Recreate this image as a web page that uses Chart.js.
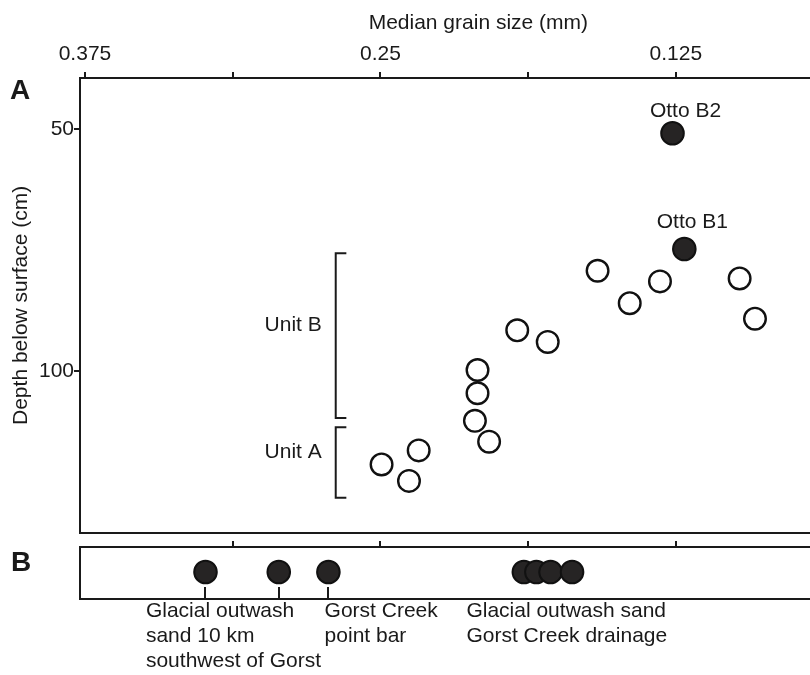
<!DOCTYPE html>
<html>
<head>
<meta charset="utf-8">
<script src="https://cdn.jsdelivr.net/npm/chart.js@4.4.1/dist/chart.umd.min.js"></script>
<style>
  html, body { margin: 0; padding: 0; background: #fff; overflow: hidden; }
  #wrap { position: relative; width: 810px; height: 675px; overflow: hidden; }
  #chartA { position: absolute; left: 0; top: 0; }
  #chartB { position: absolute; left: 0; top: 530px; }
</style>
</head>
<body>
<div id="wrap">
  <canvas id="chartA" width="890" height="546"></canvas>
  <canvas id="chartB" width="890" height="145"></canvas>
</div>
<script>
// Panel A - open circles: median grain size (mm) vs depth (cm)
const grainA = [0.2495, 0.2379, 0.2338, 0.2100, 0.2089, 0.2089, 0.2040, 0.1921, 0.1792, 0.1581, 0.1445, 0.1317, 0.0980, 0.0915];
const depthA = [119.2, 122.6, 116.3, 110.2, 99.7, 104.5, 114.5, 91.5, 93.9, 79.2, 85.9, 81.4, 80.8, 89.1];

// Otto samples (filled)
const ottoNames = ['Otto B2', 'Otto B1'];
const ottoGrain = [0.1264, 0.1214];
const ottoDepth = [50.8, 74.7];

// Units (depth ranges)
const unitNames = ['Unit B', 'Unit A'];
const unitTop = [75.6, 111.5];
const unitBottom = [109.6, 126.1];

// Panel B - reference samples
const grainB = [0.3240, 0.2930, 0.2720, 0.1893, 0.1840, 0.1780, 0.1689];
const groupLines = [
    ['Glacial outwash', 'sand 10 km', 'southwest of Gorst'],
    ['Gorst Creek', 'point bar'],
    ['Glacial outwash sand', 'Gorst Creek drainage']
];
const groupGrain = [0.3492, 0.2736, 0.2136];
const leaderIdx = [0, 1, 2];

// Axes
const grainTicks = [0.375, 0.3125, 0.25, 0.1875, 0.125];
const grainTickLabels = ['0.375', '', '0.25', '', '0.125'];
const grainTicksB = [0.3125, 0.25, 0.1875, 0.125];
const depthTicks = [50, 100];

const FONT = '"Liberation Sans", Arial, sans-serif';
const INK = '#1a1a1a';
const FS = 21;
const xMin = 0.040, xMax = 0.3771;

Chart.defaults.font.family = FONT;
Chart.defaults.font.size = FS;
Chart.defaults.color = INK;

const bracketX = 0.2689;
const bracketEnd = 0.2644;

function borderOnly(extra) {
    return Object.assign({
        display: true,
        ticks: { display: false },
        grid: { display: false },
        border: { display: true, color: INK, width: 2 }
    }, extra);
}

// brackets for the units
const bracketSets = unitNames.map((n, i) => ({
    type: 'scatter',
    showLine: true,
    data: [
        { x: bracketEnd, y: unitTop[i] },
        { x: bracketX, y: unitTop[i] },
        { x: bracketX, y: unitBottom[i] },
        { x: bracketEnd, y: unitBottom[i] }
    ],
    borderColor: INK,
    borderWidth: 2,
    pointRadius: 0,
    borderJoinStyle: 'miter'
}));

const labelsA = {
    id: 'labelsA',
    afterDatasetsDraw(chart) {
        const { ctx, scales: { x, y } } = chart;
        ctx.save();
        ctx.fillStyle = INK;
        ctx.font = FS + 'px ' + FONT;
        ctx.textBaseline = 'middle';
        // unit labels
        ctx.textAlign = 'right';
        unitNames.forEach((n, i) => {
            const mid = (y.getPixelForValue(unitTop[i]) + y.getPixelForValue(unitBottom[i])) / 2;
            ctx.fillText(n, x.getPixelForValue(bracketX) - 14, mid - 10);
        });
        // otto labels
        ctx.textAlign = 'center';
        const shift = [[13, -22], [8, -27]];
        const meta = chart.getDatasetMeta(unitNames.length + 1);
        meta.data.forEach((pt, i) => {
            ctx.fillText(ottoNames[i], pt.x + shift[i][0], pt.y + shift[i][1]);
        });
        // panel letter
        ctx.font = 'bold 28px ' + FONT;
        ctx.fillText('A', 20, 91);
        ctx.restore();
    }
};

new Chart(document.getElementById('chartA'), {
    type: 'scatter',
    data: {
        datasets: [
            ...bracketSets,
            {
                data: grainA.map((g, i) => ({ x: g, y: depthA[i] })),
                pointRadius: 10.8,
                pointBorderWidth: 2.4,
                pointBackgroundColor: '#fff',
                pointBorderColor: '#111'
            },
            {
                data: ottoGrain.map((g, i) => ({ x: g, y: ottoDepth[i] })),
                pointRadius: 11.3,
                pointBorderWidth: 2,
                pointBackgroundColor: '#262424',
                pointBorderColor: '#111'
            }
        ]
    },
    options: {
        responsive: false,
        animation: false,
        devicePixelRatio: 1,
        layout: { padding: { left: 0, top: 0, right: 12, bottom: 0 } },
        plugins: { legend: { display: false }, tooltip: { enabled: false } },
        scales: {
            x: {
                type: 'linear',
                position: 'top',
                reverse: true,
                min: xMin,
                max: xMax,
                afterBuildTicks: s => { s.ticks = grainTicks.map(v => ({ value: v })); },
                afterFit: s => { s.height = 78; },
                ticks: {
                    padding: 5,
                    maxRotation: 0,
                    autoSkip: false,
                    color: INK,
                    callback: (v, i) => grainTickLabels[i]
                },
                grid: { display: true, drawOnChartArea: false, drawTicks: true, tickLength: 6, color: INK, lineWidth: 2 },
                border: { display: true, color: INK, width: 2 },
                title: { display: true, text: 'Median grain size (mm)', color: INK, font: { size: FS }, padding: { top: 11, bottom: 0 } }
            },
            xb: borderOnly({ type: 'linear', axis: 'x', position: 'bottom', afterFit: s => { s.height = 0; } }),
            y: {
                type: 'linear',
                position: 'left',
                reverse: true,
                min: 39.4,
                max: 133.3,
                afterBuildTicks: s => { s.ticks = depthTicks.map(v => ({ value: v })); },
                afterFit: s => { s.width = 80; },
                ticks: { padding: 0, color: INK },
                grid: { display: true, drawOnChartArea: false, drawTicks: true, tickLength: 6, color: INK, lineWidth: 2 },
                border: { display: true, color: INK, width: 2 },
                title: { display: true, text: 'Depth below surface (cm)', color: INK, font: { size: FS }, padding: { top: 9, bottom: 0 } }
            }
        }
    },
    plugins: [labelsA]
});

const labelsB = {
    id: 'labelsB',
    afterDatasetsDraw(chart) {
        const { ctx, chartArea, scales: { x } } = chart;
        const meta = chart.getDatasetMeta(0);
        ctx.save();
        ctx.strokeStyle = INK;
        ctx.lineWidth = 2;
        leaderIdx.forEach(i => {
            const pt = meta.data[i];
            ctx.beginPath();
            ctx.moveTo(Math.round(pt.x), pt.y + 15);
            ctx.lineTo(Math.round(pt.x), chartArea.bottom);
            ctx.stroke();
        });
        ctx.fillStyle = INK;
        ctx.font = FS + 'px ' + FONT;
        ctx.textAlign = 'left';
        ctx.textBaseline = 'middle';
        groupLines.forEach((lines, g) => {
            const gx = x.getPixelForValue(groupGrain[g]);
            lines.forEach((t, k) => ctx.fillText(t, gx, chartArea.bottom + 12 + k * 25));
        });
        ctx.font = 'bold 28px ' + FONT;
        ctx.textAlign = 'center';
        ctx.fillText('B', 21, 33);
        ctx.restore();
    }
};

new Chart(document.getElementById('chartB'), {
    type: 'scatter',
    data: {
        datasets: [{
            data: grainB.map(g => ({ x: g, y: 0.5 })),
            pointRadius: 11.3,
            pointBorderWidth: 2,
            pointBackgroundColor: '#262424',
            pointBorderColor: '#111'
        }]
    },
    options: {
        responsive: false,
        animation: false,
        devicePixelRatio: 1,
        layout: { padding: { left: 0, top: 0, right: 12, bottom: 76 } },
        plugins: { legend: { display: false }, tooltip: { enabled: false } },
        scales: {
            x: {
                type: 'linear',
                position: 'top',
                reverse: true,
                min: xMin,
                max: xMax,
                afterBuildTicks: s => { s.ticks = grainTicksB.map(v => ({ value: v })); },
                afterFit: s => { s.height = 17; },
                ticks: { display: false },
                grid: { display: true, drawOnChartArea: false, drawTicks: true, tickLength: 6, color: INK, lineWidth: 2 },
                border: { display: true, color: INK, width: 2 }
            },
            xb: borderOnly({ type: 'linear', axis: 'x', position: 'bottom', afterFit: s => { s.height = 0; } }),
            y: borderOnly({ type: 'linear', position: 'left', min: -0.04, max: 1, afterFit: s => { s.width = 80; } })
        }
    },
    plugins: [labelsB]
});
</script>
</body>
</html>
